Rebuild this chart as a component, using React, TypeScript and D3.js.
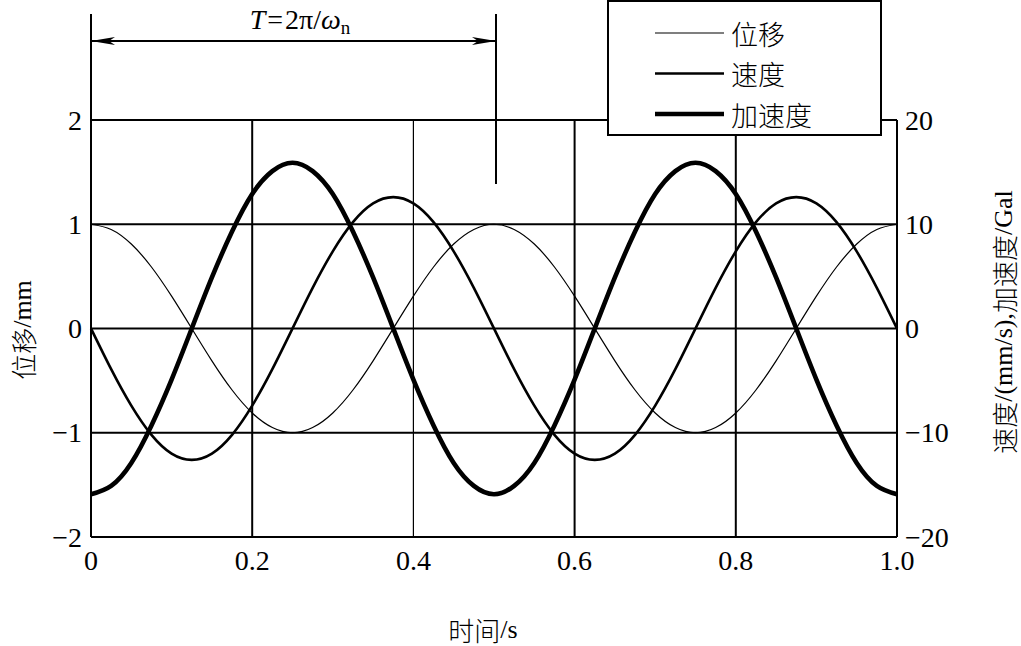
import React from "react";
import * as d3 from "d3";

const times = [0, 0.025, 0.05, 0.075, 0.1, 0.125, 0.15, 0.175, 0.2, 0.225, 0.25, 0.275, 0.3, 0.325, 0.35, 0.375, 0.4, 0.425, 0.45, 0.475, 0.5,
  0.525, 0.55, 0.575, 0.6, 0.625, 0.65, 0.675, 0.7, 0.725, 0.75, 0.775, 0.8, 0.825, 0.85, 0.875, 0.9, 0.925, 0.95, 0.975, 1.0];
// displacement, mm
const displacement = [1, 0.95, 0.81, 0.59, 0.31, 0, -0.31, -0.59, -0.81, -0.95, -1, -0.95, -0.81, -0.59, -0.31, 0, 0.31, 0.59, 0.81, 0.95, 1,
  0.95, 0.81, 0.59, 0.31, 0, -0.31, -0.59, -0.81, -0.95, -1, -0.95, -0.81, -0.59, -0.31, 0, 0.31, 0.59, 0.81, 0.95, 1];
// velocity, mm/s
const velocity = [0, -3.9, -7.4, -10.2, -12.0, -12.6, -12.0, -10.2, -7.4, -3.9, 0, 3.9, 7.4, 10.2, 12.0, 12.6, 12.0, 10.2, 7.4, 3.9, 0,
  -3.9, -7.4, -10.2, -12.0, -12.6, -12.0, -10.2, -7.4, -3.9, 0, 3.9, 7.4, 10.2, 12.0, 12.6, 12.0, 10.2, 7.4, 3.9, 0];
// acceleration, Gal
const acceleration = [-15.9, -15.1, -12.9, -9.3, -4.9, 0, 4.9, 9.3, 12.9, 15.1, 15.9, 15.1, 12.9, 9.3, 4.9, 0, -4.9, -9.3, -12.9, -15.1, -15.9,
  -15.1, -12.9, -9.3, -4.9, 0, 4.9, 9.3, 12.9, 15.1, 15.9, 15.1, 12.9, 9.3, 4.9, 0, -4.9, -9.3, -12.9, -15.1, -15.9];

const xTicks = [0, 0.2, 0.4, 0.6, 0.8, 1.0];
const xTickLabels = ["0", "0.2", "0.4", "0.6", "0.8", "1.0"];
const leftTicks = [2, 1, 0, -1, -2];
const rightTicks = [20, 10, 0, -10, -20];
const legendLabels = ["位移", "速度", "加速度"];
const legendWidths = [1.2, 2.6, 4.6];

const serif = "'Liberation Serif', 'Times New Roman', serif";
const cjk = "'Noto Sans CJK SC', sans-serif";

export default function App() {
  const W = 1021, H = 646;
  const x = d3.scaleLinear().domain([0, 1]).range([91, 897]);
  const yL = d3.scaleLinear().domain([-2, 2]).range([537, 120]);
  const yR = d3.scaleLinear().domain([-20, 20]).range([537, 120]);

  const lineL = d3.line<number>().x((_, i) => x(times[i])).y((d) => yL(d)).curve(d3.curveNatural);
  const lineR = d3.line<number>().x((_, i) => x(times[i])).y((d) => yR(d)).curve(d3.curveNatural);

  const fmt = (v: number) => (v < 0 ? "\u2212" + Math.abs(v) : String(v));

  const ax0 = x(0), ax1 = x(0.5), ay = 41;

  return (
    <svg width={W} height={H} style={{ position: "absolute", left: 0, top: 0, background: "#fff" }}>
      <rect x={0} y={0} width={W} height={H} fill="#fff" />
      {/* horizontal grid */}
      {leftTicks.map((t) => (
        <line key={"h" + t} x1={x(0)} x2={x(1)} y1={yL(t)} y2={yL(t)} stroke="#000" strokeWidth={2} />
      ))}
      {/* vertical grid */}
      {xTicks.slice(1, -1).map((t) => (
        <line key={"v" + t} x1={x(t)} x2={x(t)} y1={yL(2)} y2={yL(-2)} stroke="#000" strokeWidth={t === 0.4 ? 1.2 : 2} />
      ))}
      {/* axes */}
      <line x1={x(0)} x2={x(0)} y1={14} y2={yL(-2)} stroke="#000" strokeWidth={2} />
      <line x1={x(1)} x2={x(1)} y1={yL(2)} y2={yL(-2)} stroke="#000" strokeWidth={2} />
      {/* period annotation */}
      <line x1={ax1 + 2} x2={ax1 + 2} y1={14} y2={184} stroke="#000" strokeWidth={2} />
      <line x1={ax0} x2={ax1 + 2} y1={ay} y2={ay} stroke="#000" strokeWidth={2} />
      <path d={`M${ax0},${ay} L${ax0 + 24},${ay - 4} L${ax0 + 18},${ay} L${ax0 + 24},${ay + 4} Z`} fill="#000" />
      <path d={`M${ax1 + 2},${ay} L${ax1 - 22},${ay - 4} L${ax1 - 16},${ay} L${ax1 - 22},${ay + 4} Z`} fill="#000" />
      <text x={300} y={29} textAnchor="middle" fontFamily={serif} fontSize={28}>
        <tspan fontStyle="italic">T</tspan>
        <tspan dx={2}>=</tspan>
        <tspan dx={2}>2π/</tspan>
        <tspan fontStyle="italic">ω</tspan>
        <tspan fontSize={19} dy={5}>n</tspan>
      </text>
      {/* curves */}
      <path d={lineL(displacement) || ""} fill="none" stroke="#000" strokeWidth={1.2} />
      <path d={lineR(velocity) || ""} fill="none" stroke="#000" strokeWidth={2.6} />
      <path d={lineR(acceleration) || ""} fill="none" stroke="#000" strokeWidth={4.6} />
      {/* legend */}
      <rect x={608} y={1} width={273} height={134} fill="#fff" stroke="#000" strokeWidth={2} />
      {legendLabels.map((l, i) => (
        <g key={l}>
          <line x1={655} x2={724} y1={33 + i * 40.5} y2={33 + i * 40.5} stroke="#000" strokeWidth={legendWidths[i]} />
          <text x={731} y={33 + i * 40.5} dominantBaseline="central" fontFamily={cjk} fontSize={27} fontWeight={300}>{l}</text>
        </g>
      ))}
      {/* left ticks */}
      {leftTicks.map((t) => (
        <text key={"lt" + t} x={82} y={yL(t)} dominantBaseline="central" textAnchor="end" fontFamily={serif} fontSize={28}>{fmt(t)}</text>
      ))}
      {rightTicks.map((t) => (
        <text key={"rt" + t} x={905} y={yR(t)} dominantBaseline="central" textAnchor="start" fontFamily={serif} fontSize={28}>{fmt(t)}</text>
      ))}
      {xTicks.map((t, i) => (
        <text key={"xt" + t} x={x(t)} y={560} dominantBaseline="central" textAnchor="middle" fontFamily={serif} fontSize={28}>{xTickLabels[i]}</text>
      ))}
      {/* titles */}
      <text x={483} y={629} dominantBaseline="central" textAnchor="middle" fontSize={26}>
        <tspan fontFamily={cjk} fontWeight={300}>时间</tspan>
        <tspan fontFamily={serif}>/s</tspan>
      </text>
      <text transform={`translate(22,330) rotate(-90)`} dominantBaseline="central" textAnchor="middle" fontSize={26}>
        <tspan fontFamily={cjk} fontWeight={300}>位移</tspan>
        <tspan fontFamily={serif}>/mm</tspan>
      </text>
      <text transform={`translate(1003,322) rotate(-90)`} dominantBaseline="central" textAnchor="middle" fontSize={26}>
        <tspan fontFamily={cjk} fontWeight={300}>速度</tspan>
        <tspan fontFamily={serif}>/(mm/s),</tspan>
        <tspan fontFamily={cjk} fontWeight={300}>加速度</tspan>
        <tspan fontFamily={serif}>/Gal</tspan>
      </text>
    </svg>
  );
}
